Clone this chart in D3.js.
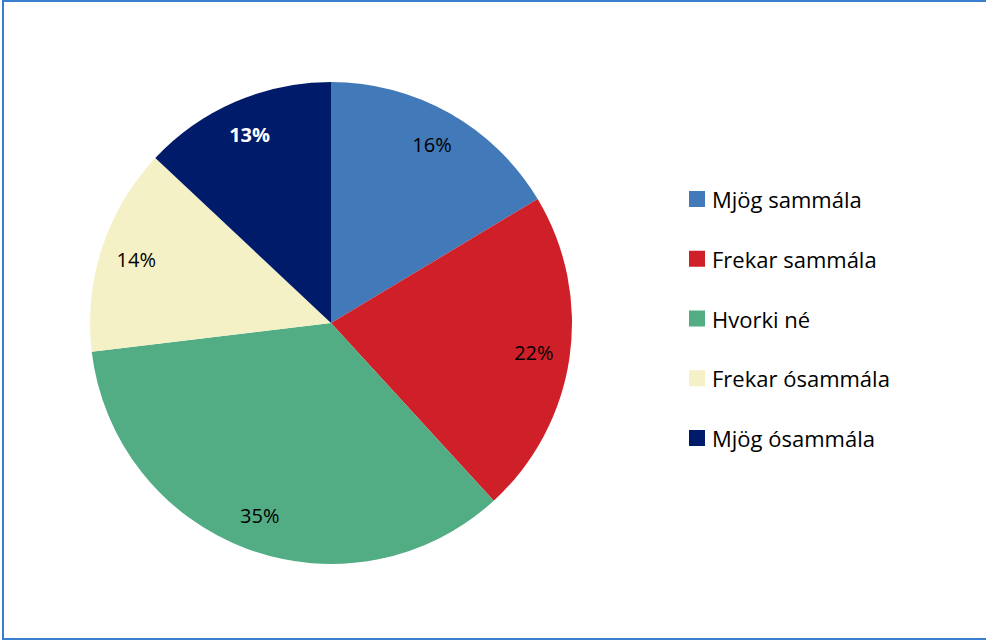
<!DOCTYPE html>
<html><head><meta charset="utf-8">
<script src="https://cdn.jsdelivr.net/npm/d3@7"></script>
<style>html,body{margin:0;padding:0;background:#fff;overflow:hidden}</style>
</head><body>
<svg id="chart" width="986" height="641"></svg>
<script>
const categories = ["Mjög sammála","Frekar sammála","Hvorki né","Frekar ósammála","Mjög ósammála"];
const values = [16.4, 21.8, 34.9, 13.9, 13.0];
const labels = ["16%","22%","35%","14%","13%"];
const colors = ["#4279B8","#CF2029","#52AD85","#F5F1C7","#001B6A"];
const labelColors = ["#000","#000","#000","#000","#fff"];
const labelWeights = ["normal","normal","normal","normal","bold"];

const svg = d3.select("#chart");
svg.append("rect").attr("x",3).attr("y",1).attr("width",1000).attr("height",638)
  .attr("fill","#fff").attr("stroke","#3A7FCF").attr("stroke-width",2);

const cx = 331, cy = 323, R = 241;
const g = svg.append("g").attr("transform",`translate(${cx},${cy})`);
const data = categories.map((c,i)=>({c, v:values[i], i}));
const pie = d3.pie().value(d=>d.v).sort(null);
const arc = d3.arc().innerRadius(0).outerRadius(R);
const labelArc = d3.arc().innerRadius(205).outerRadius(205);
const arcs = pie(data);
g.selectAll("path").data(arcs).join("path")
  .attr("d",arc).attr("fill",d=>colors[d.data.i]);
g.selectAll("text").data(arcs).join("text")
  .attr("transform",d=>`translate(${labelArc.centroid(d)})`)
  .attr("text-anchor","middle").attr("dominant-baseline","central")
  .attr("font-family","Open Sans, sans-serif").attr("font-size",20)
  .attr("fill",d=>labelColors[d.data.i]).attr("font-weight",d=>labelWeights[d.data.i])
  .text(d=>labels[d.data.i]);

const legY = d3.scalePoint().domain(categories).range([199,438]);
const leg = svg.append("g");
const items = leg.selectAll("g").data(categories).join("g")
  .attr("transform",d=>`translate(689,${legY(d)})`);
items.append("rect").attr("x",0).attr("y",-8).attr("width",16).attr("height",16)
  .attr("fill",(d,i)=>colors[i]);
items.append("text").attr("x",23).attr("y",0).attr("dominant-baseline","central")
  .attr("font-family","Open Sans, sans-serif").attr("font-size",22).attr("fill","#000")
  .text(d=>d);
</script>
</body></html>
